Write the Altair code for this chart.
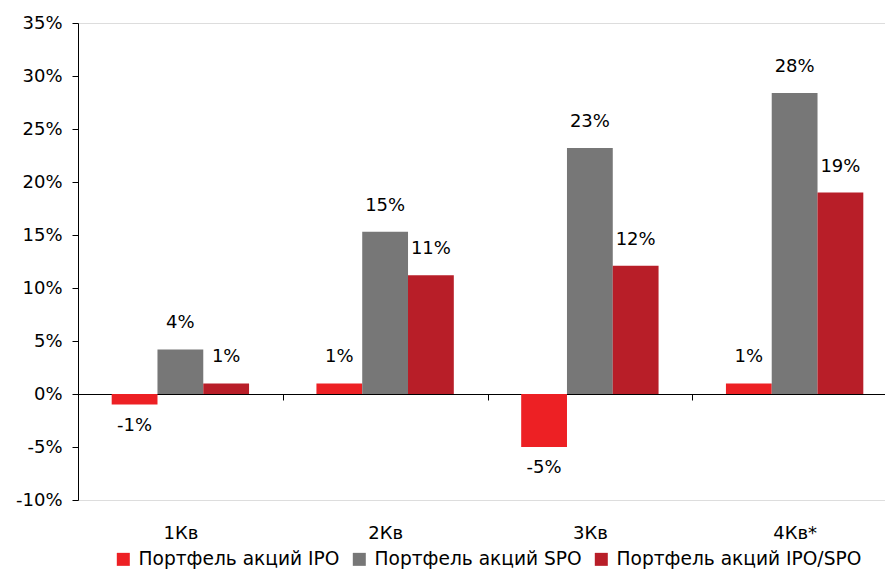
import altair as alt
import pandas as pd

# Quarterly returns of the IPO / SPO share portfolios
quarters = ["1Кв", "2Кв", "3Кв", "4Кв*"]
series = ["Портфель акций IPO", "Портфель акций SPO", "Портфель акций IPO/SPO"]
ipo = [-0.010, 0.010, -0.050, 0.010]
spo = [0.042, 0.153, 0.232, 0.284]
ipo_spo = [0.010, 0.112, 0.121, 0.190]
colors = ["#ED2024", "#777777", "#B81E28"]
y_ticks = [-0.10, -0.05, 0.0, 0.05, 0.10, 0.15, 0.20, 0.25, 0.30, 0.35]

FONT = "DejaVu Sans"
FS = 18

rows = []
for name, vals in zip(series, [ipo, spo, ipo_spo]):
    for q, v in zip(quarters, vals):
        rows.append({"quarter": q, "series": name, "value": v})
df = pd.DataFrame(rows)

# The category axis sits on the zero line; its labels hang below the plot
x_enc = alt.X(
    "quarter:N",
    sort=quarters,
    scale=alt.Scale(range=[0, 819], paddingInner=0, paddingOuter=0),
    axis=alt.Axis(
        title=None,
        orient="bottom",
        offset=alt.ExprRef("scale('y', 0) - height"),
        tickBand="extent",
        tickSize=6,
        tickColor="#000000",
        domainColor="#000000",
        labelAngle=0,
        labelPadding=124,
        labelFont=FONT,
        labelFontSize=FS,
        labelColor="#000000",
    ),
)
xoff_enc = alt.XOffset(
    "series:N", sort=series, scale=alt.Scale(paddingOuter=0.736, paddingInner=0)
)
y_enc = alt.Y(
    "value:Q",
    scale=alt.Scale(domain=[-0.10, 0.35], nice=False, zero=False),
    axis=alt.Axis(
        title=None,
        values=y_ticks,
        format=".0%",
        grid=False,
        tickSize=6,
        tickColor="#000000",
        domainColor="#000000",
        labelPadding=10,
        labelFont=FONT,
        labelFontSize=FS,
        labelColor="#000000",
    ),
)

base = alt.Chart(df).encode(x=x_enc, xOffset=xoff_enc, y=y_enc)

bars = base.mark_bar(size=45.8).encode(
    color=alt.Color(
        "series:N",
        sort=series,
        scale=alt.Scale(domain=series, range=colors),
        legend=alt.Legend(
            title=None,
            orient="none",
            legendX=36,
            legendY=527,
            direction="horizontal",
            symbolType="square",
            symbolSize=169,
            symbolStrokeWidth=0,
            symbolOpacity=1,
            labelFont=FONT,
            labelFontSize=18.6,
            labelColor="#000000",
            labelOffset=6,
            labelLimit=400,
            columnPadding=10,
            padding=0,
        ),
    )
)

label_pos = base.transform_filter("datum.value >= 0").mark_text(
    font=FONT, fontSize=FS, color="#000000", baseline="middle", dy=-26
).encode(text=alt.Text("value:Q", format=".0%"))

label_neg = base.transform_filter("datum.value < 0").mark_text(
    font=FONT, fontSize=FS, color="#000000", baseline="middle", dy=21
).encode(text=alt.Text("value:Q", format=".0%"))

chart = (
    alt.layer(bars, label_pos, label_neg)
    .properties(
        width=807,
        height=477,
        padding={"left": 78, "top": 23, "right": 0, "bottom": 71},
        autosize=alt.AutoSizeParams(type="none"),
        background="#ffffff",
    )
    .configure_view(stroke=None)
    .configure(
        locale={
            "number": {
                "decimal": ".",
                "thousands": ",",
                "grouping": [3],
                "currency": ["$", ""],
                "minus": "-",
            }
        }
    )
)

chart.save("out.html", embed_options={"renderer": "svg", "actions": False})
